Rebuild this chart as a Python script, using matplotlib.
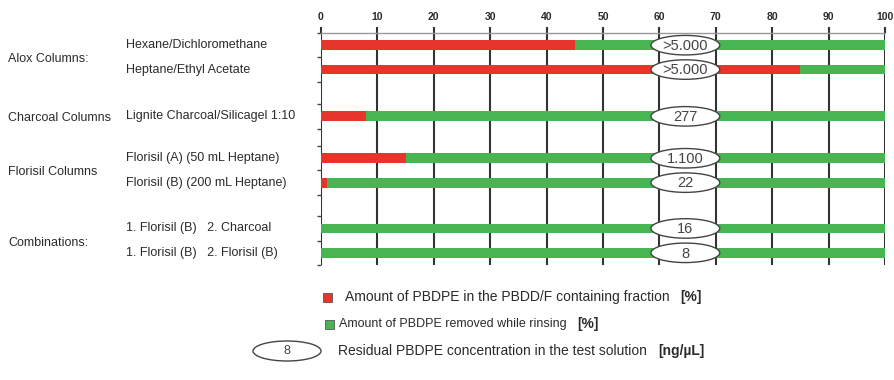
"""Column clean-up comparison: PBDPE split between fractions."""

import matplotlib.pyplot as plt
from matplotlib import font_manager
from matplotlib.patches import Ellipse, Rectangle

plt.rcParams["font.family"] = ["Liberation Sans", "DejaVu Sans"]

groups = ["Alox Columns:", "Charcoal Columns", "Florisil Columns", "Combinations:"]
group_rows = [[0, 1], [2], [3, 4], [5, 6]]
rows = [
    "Hexane/Dichloromethane",
    "Heptane/Ethyl Acetate",
    "Lignite Charcoal/Silicagel 1:10",
    "Florisil (A) (50 mL Heptane)",
    "Florisil (B) (200 mL Heptane)",
    "1. Florisil (B)   2. Charcoal",
    "1. Florisil (B)   2. Florisil (B)",
]
in_fraction = [45, 85, 8, 15, 1, 0, 0]
removed = [100 - v for v in in_fraction]
residual = [">5.000", ">5.000", "277", "1.100", "22", "16", "8"]
x_ticks = [0, 10, 20, 30, 40, 50, 60, 70, 80, 90, 100]
legend_items = [
    ("Amount of PBDPE in the PBDD/F containing fraction", "[%]"),
    ("Amount of PBDPE removed while rinsing", "[%]"),
    ("Residual PBDPE concentration in the test solution", "[ng/\u00b5L]"),
]

RED = "#e8352b"
GREEN = "#46b552"
TEXT = "#2b2b2b"

# the scanned legend line for the green entry is set tighter than the others
installed = {f.name for f in font_manager.fontManager.ttflist}
narrow = dict(fontsize=9)
for cand in ["Liberation Sans Narrow", "DejaVu Sans Condensed", "Arial Narrow"]:
    if cand in installed:
        narrow = dict(family=[cand, "DejaVu Sans"], fontsize=9.5)
        break

# vertical slot of each row (groups separated by a gap)
ypos = [0, 1, 2.92, 4.64, 5.64, 7.52, 8.52]

fig = plt.figure(figsize=(8.94, 3.8), dpi=100)
ax = fig.add_axes([321 / 894, 1 - 265 / 380, 564 / 894, 232 / 380])

ax.barh(ypos, in_fraction, height=0.4, color=RED, zorder=2)
ax.barh(ypos, removed, left=in_fraction, height=0.4, color=GREEN, zorder=2)

for y, lab in zip(ypos, residual):
    ax.add_patch(Ellipse((64.6, y), 12.2, 0.8, facecolor="white",
                         edgecolor="#444444", lw=1.0, zorder=4))
    ax.text(64.6, y + 0.03, lab, ha="center", va="center", fontsize=10.5,
            color="#444444", zorder=5)

ax.set_xlim(0, 100)
ax.set_ylim(8.92, -0.36)
ax.xaxis.tick_top()
ax.set_xticks(x_ticks)
ax.set_xticklabels([str(t) for t in x_ticks], fontsize=7.5,
                   fontweight="bold", color=TEXT)
ax.tick_params(axis="x", direction="out", length=4, width=1.5,
               color="#333333", pad=4)
for t in x_ticks:
    ax.axvline(t, color="#333333", lw=1.5, zorder=1)

edges = sorted(set([y - 0.5 for y in ypos] + [y + 0.5 for y in ypos]))
ax.set_yticks(edges)
ax.set_yticklabels([])
ax.tick_params(axis="y", direction="out", length=3, width=1.0, color="#444444")

for side in ["left", "right", "bottom"]:
    ax.spines[side].set_visible(False)
ax.spines["top"].set_color("#999999")
ax.spines["top"].set_linewidth(1.0)

# row and group labels on the left
for y, lab in zip(ypos, rows):
    ax.text(-34.6, y, lab, ha="left", va="center", fontsize=9, color=TEXT,
            clip_on=False)
for g, idx in zip(groups, group_rows):
    gy = sum(ypos[i] for i in idx) / len(idx) + 0.08
    ax.text(-55.5, gy, g, ha="left", va="center", fontsize=9, color=TEXT,
            clip_on=False)


# legend below the chart
def fy(p):
    return 1 - p / 380


fig.patches.append(Rectangle((323 / 894, fy(302)), 9 / 894, 9 / 380,
                             transform=fig.transFigure, facecolor=RED,
                             edgecolor="#555555", lw=0.6))
fig.patches.append(Rectangle((325 / 894, fy(329)), 9 / 894, 9 / 380,
                             transform=fig.transFigure, facecolor=GREEN,
                             edgecolor="#555555", lw=0.6))
fig.patches.append(Ellipse((287 / 894, fy(351)), 68 / 894, 20 / 380,
                           transform=fig.transFigure, facecolor="white",
                           edgecolor="#444444", lw=1.0))
fig.text(287 / 894, fy(351), residual[-1], fontsize=9, color="#444444",
         ha="center", va="center")

renderer = fig.canvas.get_renderer()
styles = [dict(fontsize=10), narrow, dict(fontsize=10)]
for (label, unit), x0, py, st in zip(legend_items, [345, 339, 338],
                                     [297, 324, 351], styles):
    t = fig.text(x0 / 894, fy(py), label, color=TEXT, va="center", **st)
    right = t.get_window_extent(renderer).x1
    fig.text((right + 11) / 894, fy(py), unit, fontsize=10, fontweight="bold",
             color=TEXT, va="center")

fig.savefig("out.png", dpi=100)
